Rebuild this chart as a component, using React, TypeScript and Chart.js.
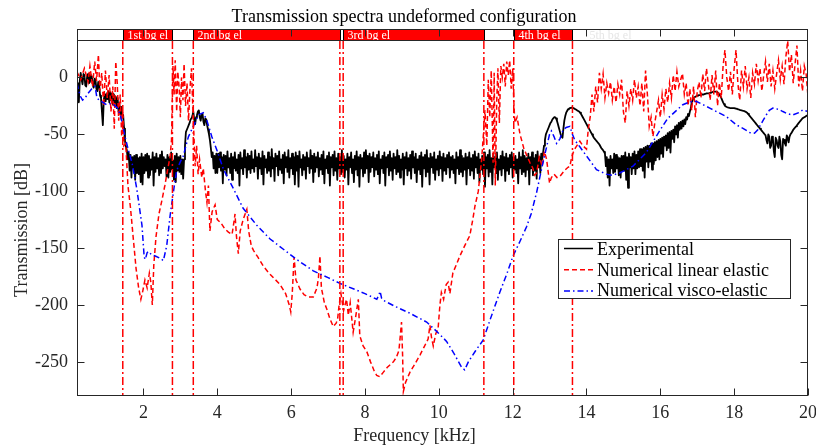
import React, { useEffect, useRef } from "react";
import { Chart, registerables } from "chart.js";

Chart.register(...registerables);

const FONT = '"Liberation Serif", "Times New Roman", Times, serif';
const INK = "#262626";

const chartTitle = "Transmission spectra undeformed configuration";
const xAxisTitle = "Frequency [kHz]";
const yAxisTitle = "Transmission [dB]";

const xTickValues = [2, 4, 6, 8, 10, 12, 14, 16, 18, 20];
const yTickValues = [-250, -200, -150, -100, -50, 0];
const xMin = 0.2;
const xMax = 20;
const yMin = -280;
const yMax = 32;

const bandLabels = ["1st bg el", "2nd bg el", "3rd bg el", "4th bg el"];
const bandStarts = [1.44, 3.35, 7.41, 12.03];
const bandEnds = [2.785, 7.32, 11.22, 13.62];
const ghostLabel = "5th bg el";
const ghostLabelAt = 14.0;

const seriesLabels = ["Experimental", "Numerical linear elastic", "Numerical visco-elastic"];

// Experimental: frequencies from 0.2 kHz, one reading every 0.025 kHz
const expStartKHz = 0.2;
const expStepKHz = 0.025;
const experimentalDb = [
  // 0.200 - 0.975
  -5, -12, -22, -3, 4, -2, -6, 3, 2, -7,
  -8, 1, 3, -5, -4, 2, 1, -6, -9, -1,
  -2, -10, -12, -4, -6, -16, -18, -30, -42, -20,
  -15, -21,
  // 1
  -14, -19, -12, -22, -13, -20, -14, -24, -15, -23,
  -17, -27, -18, -30, -24, -33, -26, -34, -33, -45,
  -56, -61, -64, -72, -66, -82, -68, -88, -70, -80,
  -69, -90, -68, -84, -71, -85, -70, -92, -67, -94,
  // 2
  -70, -84, -68, -82, -67, -88, -69, -86, -72, -81,
  -66, -95, -70, -83, -67, -80, -71, -86, -68, -84,
  -65, -80, -70, -78, -72, -87, -68, -88, -70, -83,
  -66, -81, -73, -90, -69, -92, -67, -82, -70, -83,
  // 3
  -69, -85, -72, -89, -72, -60, -48, -46, -44, -42,
  -40, -37, -36, -34, -30, -37, -41, -35, -33, -30,
  -29, -35, -38, -33, -32, -39, -42, -36, -37, -42,
  -46, -50, -55, -62, -70, -66, -80, -69, -84, -67,
  // 4
  -84, -67, -79, -66, -82, -70, -93, -68, -81, -69,
  -86, -65, -79, -71, -84, -67, -90, -70, -80, -66,
  -82, -72, -84, -68, -95, -66, -80, -71, -85, -64,
  -79, -70, -88, -67, -81, -69, -84, -65, -80, -72,
  // 5
  -83, -64, -78, -70, -89, -67, -80, -71, -85, -65,
  -94, -69, -79, -72, -84, -66, -82, -70, -87, -63,
  -80, -71, -91, -67, -78, -69, -86, -65, -81, -72,
  -84, -68, -93, -66, -79, -70, -83, -64, -88, -71,
  // 6
  -80, -67, -85, -70, -94, -66, -82, -69, -96, -65,
  -79, -72, -86, -68, -81, -70, -89, -66, -78, -71,
  -84, -64, -80, -69, -92, -67, -83, -70, -79, -66,
  -87, -71, -81, -68, -85, -65, -93, -72, -80, -69,
  // 7
  -84, -66, -95, -70, -79, -68, -86, -65, -82, -71,
  -90, -67, -80, -70, -85, -64, -83, -69, -88, -72,
  -81, -67, -94, -70, -79, -66, -84, -72, -92, -69,
  -81, -65, -86, -70, -96, -68, -80, -71, -87, -66,
  // 8
  -84, -64, -80, -69, -92, -67, -83, -70, -79, -66,
  -87, -71, -81, -68, -85, -65, -93, -72, -80, -69,
  -84, -66, -95, -70, -79, -68, -86, -65, -82, -71,
  -90, -67, -80, -70, -85, -64, -83, -69, -88, -72,
  // 9
  -81, -67, -94, -70, -80, -66, -86, -71, -82, -68,
  -89, -65, -79, -70, -84, -67, -92, -72, -81, -69,
  -85, -66, -96, -70, -80, -68, -87, -64, -83, -71,
  -94, -67, -79, -70, -84, -66, -90, -72, -81, -69,
  // 10
  -86, -65, -80, -70, -91, -67, -82, -71, -85, -68,
  -79, -66, -88, -70, -81, -69, -84, -72, -93, -66,
  -80, -70, -85, -64, -83, -69, -87, -71, -81, -67,
  -94, -70, -80, -66, -86, -71, -82, -68, -89, -65,
  // 11
  -79, -70, -84, -67, -92, -72, -81, -69, -85, -66,
  -96, -70, -80, -68, -87, -64, -83, -71, -94, -67,
  -79, -70, -84, -66, -90, -72, -81, -69, -86, -65,
  -80, -70, -91, -67, -82, -71, -85, -68, -79, -66,
  // 12
  -88, -70, -81, -69, -84, -72, -93, -66, -80, -70,
  -85, -64, -83, -69, -87, -71, -81, -67, -94, -70,
  -80, -66, -86, -71, -82, -68, -89, -65, -79, -70,
  -84, -67, -72, -66, -60, -55, -50, -48, -46, -44,
  // 13
  -42, -40, -39, -37, -36, -35, -35, -36, -38, -41,
  -44, -47, -50, -52, -53, -45, -38, -34, -31, -29.5,
  -28, -27.5, -27, -26.7, -26.5, -26.7, -27, -27.5, -28, -28.5,
  -29, -29.5, -30, -31, -32, -33.5, -35, -36.5, -38, -39.5,
  // 14
  -41, -42.5, -44, -45.5, -47, -48.5, -50, -51.5, -53, -54,
  -55, -56, -57, -58, -59, -60.5, -62, -63, -64, -65.5,
  -67, -78, -70, -88, -72, -95, -69, -80, -72, -84,
  -67, -83, -68, -80, -70, -86, -71, -88, -69, -82,
  // 15
  -69, -82, -66, -90, -70, -97, -67, -79, -70, -85,
  -67, -80, -65, -85, -68, -80, -65, -79, -63, -78,
  -63, -82, -62, -88, -61, -74, -60, -79, -60, -74,
  -58, -81, -58, -76, -57, -73, -56, -70, -55, -72,
  // 16
  -54, -67, -53, -70, -52, -60, -51, -64, -49, -62,
  -48, -66, -47, -54, -46, -57, -43, -50, -42, -53,
  -40, -46, -39, -45, -38, -43, -37, -41, -35, -37,
  -32, -34, -30, -27, -22, -20, -18, -17.5, -17, -16.5,
  // 17
  -16, -16, -15.5, -15.5, -15, -15, -15, -15, -14.5, -14.5,
  -14, -14, -14, -14, -13.5, -13.5, -13, -13, -12.5, -12.5,
  -12.5, -12.7, -13, -14, -15, -16.5, -18, -20, -22, -23.5,
  -25, -25.5, -26, -26.3, -26.5, -26.8, -27, -27, -27, -27,
  // 18
  -27, -27.2, -27.5, -27.7, -28, -28.2, -28.5, -28.7, -29, -29.2,
  -29.5, -29.7, -30, -30.5, -31, -32, -33, -34, -35, -36,
  -37, -38, -39, -40, -41, -42, -43, -44, -45, -46,
  -47, -48, -49, -50, -51, -55, -58, -50, -52, -62,
  // 19
  -60, -52, -54, -65, -70, -53, -55, -60, -62, -52,
  -56, -68, -72, -54, -55, -58, -60, -51, -53, -57,
  -52, -50, -49, -47.5, -46, -45, -44, -43, -42, -41,
  -40, -39, -38, -37, -36, -35.5, -35, -34.5, -34, -33.5,
  // 20
  -33,
];

const linearFreq = [
  0.2, 0.3, 0.4, 0.5, 0.55, 0.62, 0.68, 0.73, 0.78, 0.82,
  0.87, 0.92, 0.97, 1.02, 1.07, 1.12, 1.17, 1.21, 1.25, 1.29,
  1.33, 1.37, 1.41, 1.44, 1.47, 1.52, 1.58, 1.65, 1.72, 1.8,
  1.87, 1.93, 1.98, 2.04, 2.1, 2.16, 2.2, 2.24, 2.28, 2.34,
  2.42, 2.5, 2.58, 2.65, 2.72, 2.76, 2.78, 2.8, 2.83, 2.86,
  2.9, 2.93, 2.97, 3.0, 3.03, 3.07, 3.1, 3.14, 3.18, 3.22,
  3.26, 3.3, 3.33, 3.36, 3.4, 3.44, 3.48, 3.52, 3.58, 3.62,
  3.68, 3.72, 3.76, 3.8, 3.86, 3.94, 4.0, 4.1, 4.2, 4.3,
  4.4, 4.46, 4.48, 4.52, 4.57, 4.62, 4.7, 4.8, 4.85, 4.92,
  4.98, 5.1, 5.25, 5.4, 5.55, 5.7, 5.85, 5.95, 5.99, 6.03,
  6.08, 6.13, 6.24, 6.35, 6.47, 6.6, 6.7, 6.74, 6.78, 6.82,
  6.9, 6.96, 7.05, 7.14, 7.22, 7.26, 7.3, 7.35, 7.42, 7.5,
  7.55, 7.6, 7.68, 7.75, 7.82, 7.86, 7.95, 8.05, 8.15, 8.25,
  8.32, 8.4, 8.5, 8.6, 8.7, 8.77, 8.85, 8.92, 8.96, 8.99,
  9.02, 9.04, 9.1, 9.22, 9.35, 9.49, 9.6, 9.71, 9.76, 9.8,
  9.85, 9.92, 9.98, 10.03, 10.07, 10.13, 10.2, 10.25, 10.3, 10.38,
  10.47, 10.57, 10.7, 10.84, 10.92, 10.98, 11.07, 11.16, 11.22, 11.25,
  11.3, 11.34, 11.38, 11.42, 11.47, 11.5, 11.53, 11.57, 11.6, 11.64,
  11.68, 11.72, 11.76, 11.8, 11.84, 11.88, 11.92, 11.96, 12.0, 12.03,
  12.06, 12.12, 12.2, 12.3, 12.4, 12.47, 12.55, 12.6, 12.65, 12.72,
  12.8, 12.86, 12.92, 13.0, 13.05, 13.12, 13.2, 13.28, 13.4, 13.5,
  13.55, 13.6, 13.64, 13.7, 13.78, 13.82, 13.9, 14.0,
  14.05, 14.1, 14.15, 14.2, 14.25, 14.3, 14.35, 14.4, 14.45, 14.5,
  14.55, 14.6, 14.65, 14.7, 14.75, 14.8, 14.85, 14.9, 14.95, 15.0,
  15.05, 15.1, 15.15, 15.2, 15.25, 15.3, 15.35, 15.4, 15.45, 15.5,
  15.55, 15.6, 15.65, 15.7, 15.75, 15.8, 15.85, 15.9, 15.95, 16.0,
  16.05, 16.1, 16.15, 16.2, 16.25, 16.3, 16.35, 16.4, 16.45, 16.5,
  16.55, 16.6, 16.65, 16.7, 16.75, 16.8, 16.85, 16.9, 16.95, 17.0,
  17.05, 17.1, 17.15, 17.2, 17.25, 17.3, 17.35, 17.4, 17.45, 17.5,
  17.55, 17.6, 17.65, 17.7, 17.75, 17.8, 17.85, 17.9, 17.95, 18.0,
  18.05, 18.1, 18.15, 18.2, 18.25, 18.3, 18.35, 18.4, 18.45, 18.5,
  18.55, 18.6, 18.65, 18.7, 18.75, 18.8, 18.85, 18.9, 18.95, 19.0,
  19.05, 19.1, 19.15, 19.2, 19.25, 19.3, 19.35, 19.4, 19.45, 19.5,
  19.55, 19.6, 19.65, 19.7, 19.75, 19.8, 19.85, 19.9, 19.95, 20.0,
];
const linearDb = [
  5, -2, 8, -4, 10, -8, 14, -3, 20, -12,
  4, -25, 6, -18, 2, -30, -8, -45, 14, -5,
  -38, -15, -52, -30, -60, -58, -95, -115, -140, -168,
  -185, -195, -188, -178, -185, -172, -180, -200, -165, -140,
  -120, -108, -95, -82, -70, -55, -20, 10, -15, 15,
  -30, 5, -10, -35, 0, -20, 12, -25, -5, -38,
  -10, 8, -20, -45, -78, -60, -85, -72, -88, -80,
  -100, -110, -95, -135, -118, -112, -125, -128, -133, -136,
  -138, -125, -120, -140, -155, -135, -125, -116, -135, -148,
  -152, -158, -166, -172, -177, -182, -190, -200, -206, -190,
  -158, -178, -186, -191, -193, -193, -185, -176, -157, -185,
  -198, -203, -212, -219, -216, -212, -200, -190, -205, -195,
  -209, -198, -224, -210, -195, -227, -236, -241, -250, -258,
  -262, -263, -259, -255, -252, -250, -246, -240, -226, -215,
  -245, -276, -268, -259, -252, -244, -237, -230, -218, -228,
  -236, -225, -221, -200, -189, -195, -182, -180, -190, -172,
  -165, -157, -148, -139, -125, -113, -100, -72, -45, -29,
  -60, -2, -35, 6, -75, 4, -95, -20, 8, -40,
  10, 0, 12, -8, 14, 2, 15, -10, 8, -20,
  -40, -35, -50, -62, -70, -75, -80, -86, -84, -70,
  -78, -65, -72, -93, -88, -85, -88, -87, -82, -79,
  -78, -70, -66, -62, -58, -56, -60, -63,
  -45, -35, -15, -30, -8, -22, 4, -10, 3, -18,
  -5, -14, -4, -20, -8, -22, -6, -15, -2, -30,
  -40, -12, -25, -10, -20, -2, -18, -8, -25, -5,
  -30, 6, -15, -43, -35, -52, -40, -30, -20, -35,
  -15, -28, -10, -22, -5, -18, 2, -12, 5, -8,
  -2, 3.5, -15, -5, -25, -10, -29, -8, -35, -12,
  -4, -18, 3, -12, 8, -6, -20, 2, -15, 6,
  -25, -5, -18, 10, 24, 0, -12, 5, -15, 8,
  24, -5, -20, 6, -8, 10, -10, 0, -18, 4,
  -6, 12, -3, 8, -12, 2, 14, -4, 12, -8,
  6, -10, 3, 15, -2, 10, -6, 18, 32, 5,
  20, -5, 12, 28, -8, 6, -12, 10, 3, -17,
];

const viscoFreq = [
  0.2, 0.25, 0.3, 0.35, 0.42, 0.5, 0.6, 0.69, 0.74, 0.8,
  0.9, 1.0, 1.1, 1.2, 1.3, 1.38, 1.45, 1.5, 1.6, 1.69,
  1.82, 1.96, 2.02, 2.05, 2.1, 2.14, 2.22, 2.32, 2.45, 2.54,
  2.63, 2.72, 2.78, 2.85, 2.9, 3.0, 3.08, 3.15, 3.22, 3.35,
  3.49, 3.62, 3.72, 3.85, 3.99, 4.17, 4.44, 4.7, 5.07, 5.43,
  5.79, 6.15, 6.6, 7.0, 7.32, 7.7, 8.0, 8.32, 8.38, 8.41,
  8.45, 8.5, 8.8, 9.2, 9.67, 10.0, 10.21, 10.4, 10.62, 10.7,
  10.8, 11.0, 11.2, 11.4, 11.65, 11.85, 12.01, 12.2, 12.38, 12.5,
  12.65, 12.78, 12.92, 13.0, 13.05, 13.12, 13.19, 13.28, 13.37, 13.45,
  13.55, 13.62, 13.68, 13.82, 14.0, 14.27, 14.54, 14.7, 14.9, 15.26,
  15.62, 15.98, 16.2, 16.44, 16.61, 16.8, 16.97, 17.16, 17.34, 17.52,
  17.79, 18.06, 18.25, 18.42, 18.55, 18.64, 18.78, 18.87, 18.95, 19.05,
  19.2, 19.32, 19.45, 19.59, 19.75, 19.86, 20.0,
];
const viscoDb = [
  -5, -12, -17, -20, -18, -14, -10, -8, -18, -20,
  -22, -24, -23, -24, -27, -34, -44, -52, -65, -75,
  -98, -130, -158, -160, -154, -153, -156, -157, -159, -161,
  -148, -122, -108, -92, -82, -74, -69, -60, -52, -43,
  -33, -31, -38, -52, -64, -81, -98, -115, -130, -142,
  -151, -160, -170, -176, -181, -186, -190, -195, -191, -188,
  -194, -196, -201, -207, -215, -225, -232, -242, -255, -257,
  -250, -240, -231, -212, -189, -172, -157, -144, -131, -120,
  -101, -81, -61, -50, -47, -52, -58, -54, -46, -44,
  -43, -50, -55, -61, -69, -81, -85, -86, -84, -78,
  -66, -47, -36, -29, -24, -21.5, -21, -24, -27, -30,
  -34.5, -41.7, -45, -48.4, -49, -46, -38, -33, -29, -27,
  -28, -30, -32, -33, -31, -28.6, -30,
];

const overlayPlugin = {
  id: "overlay",
  afterDatasetsDraw(chart: any) {
    const { ctx, chartArea: a, scales } = chart;
    const x = scales.x;
    ctx.save();
    ctx.beginPath();
    ctx.rect(a.left, a.top, a.right - a.left, a.bottom - a.top);
    ctx.clip();
    ctx.strokeStyle = "#ff0000";
    ctx.lineWidth = 1.5;
    ctx.setLineDash([8, 3, 2, 3]);
    [...bandStarts, ...bandEnds].forEach((f) => {
      const px = x.getPixelForValue(f);
      ctx.beginPath();
      ctx.moveTo(px, a.top);
      ctx.lineTo(px, a.bottom);
      ctx.stroke();
    });
    ctx.restore();
  },
  afterDraw(chart: any) {
    const { ctx, chartArea: a, scales } = chart;
    const x = scales.x;
    const y = scales.y;
    const L = Math.round(a.left) + 0.5;
    const R = Math.round(a.right) - 0.5;
    const T = Math.round(a.top) - 0.5;
    const B = Math.round(a.bottom) - 0.5;
    const stripTop = 29.5;
    const tick = 7;
    ctx.save();
    ctx.setLineDash([]);

    // plot frame and inward ticks
    ctx.strokeStyle = INK;
    ctx.lineWidth = 1;
    ctx.strokeRect(L, T, R - L, B - T);
    ctx.beginPath();
    yTickValues.forEach((v) => {
      const py = Math.round(y.getPixelForValue(v)) + 0.5;
      ctx.moveTo(L, py);
      ctx.lineTo(L + tick, py);
      ctx.moveTo(R, py);
      ctx.lineTo(R - tick, py);
    });
    xTickValues.forEach((v) => {
      const px = Math.round(x.getPixelForValue(v)) + 0.5;
      ctx.moveTo(px, B);
      ctx.lineTo(px, B - tick);
    });
    ctx.stroke();

    // band strip above the plot
    ctx.fillStyle = "#ffffff";
    ctx.fillRect(L, stripTop, R - L, T - stripTop);
    bandStarts.forEach((s, i) => {
      const x0 = Math.round(x.getPixelForValue(s)) + 0.5;
      const x1 = Math.round(x.getPixelForValue(bandEnds[i])) + 0.5;
      ctx.fillStyle = "#ff0000";
      ctx.fillRect(x0, stripTop, x1 - x0, T - stripTop);
      ctx.strokeStyle = "#000000";
      ctx.strokeRect(x0, stripTop, x1 - x0, T - stripTop);
      ctx.save();
      ctx.beginPath();
      ctx.rect(x0, stripTop, x1 - x0, T - stripTop);
      ctx.clip();
      ctx.fillStyle = "#ffffff";
      ctx.font = `12px ${FONT}`;
      ctx.textAlign = "left";
      ctx.textBaseline = "alphabetic";
      ctx.fillText(bandLabels[i], x0 + 4, 39.3);
      ctx.restore();
    });
    ctx.save();
    ctx.beginPath();
    ctx.rect(L, stripTop, R - L, T - stripTop);
    ctx.clip();
    ctx.fillStyle = "#e6e6e6";
    ctx.font = `12px ${FONT}`;
    ctx.textAlign = "left";
    ctx.fillText(ghostLabel, x.getPixelForValue(ghostLabelAt) + 3, 39.3);
    ctx.restore();
    ctx.strokeStyle = INK;
    ctx.lineWidth = 1;
    ctx.strokeRect(L, stripTop, R - L, T - stripTop);
    ctx.beginPath();
    xTickValues.forEach((v) => {
      if (v >= xMax) return;
      const px = Math.round(x.getPixelForValue(v)) + 0.5;
      ctx.moveTo(px, stripTop);
      ctx.lineTo(px, stripTop + tick);
    });
    ctx.stroke();

    // legend
    const lx = 558.5, ly = 239.5, lw = 232, lh = 59;
    ctx.fillStyle = "#ffffff";
    ctx.fillRect(lx, ly, lw, lh);
    ctx.strokeStyle = INK;
    ctx.lineWidth = 1;
    ctx.strokeRect(lx, ly, lw, lh);
    chart.data.datasets.forEach((ds: any, i: number) => {
      const sy = 248.5 + i * 21.3;
      ctx.strokeStyle = ds.borderColor;
      ctx.lineWidth = Math.min(ds.borderWidth, 1.5);
      ctx.setLineDash(ds.borderDash || []);
      ctx.beginPath();
      ctx.moveTo(564, sy);
      ctx.lineTo(593, sy);
      ctx.stroke();
      ctx.setLineDash([]);
      ctx.fillStyle = "#000000";
      ctx.font = `18px ${FONT}`;
      ctx.textAlign = "left";
      ctx.textBaseline = "alphabetic";
      ctx.fillText(ds.label, 597, 255 + i * 20.7);
    });

    // titles
    ctx.fillStyle = "#000000";
    ctx.font = `18px ${FONT}`;
    ctx.textAlign = "center";
    ctx.textBaseline = "alphabetic";
    ctx.fillText(chartTitle, 404, 22);
    ctx.fillStyle = INK;
    ctx.fillText(xAxisTitle, 414.5, 441);
    ctx.save();
    ctx.translate(27, 230);
    ctx.rotate(-Math.PI / 2);
    ctx.fillText(yAxisTitle, 0, 0);
    ctx.restore();

    ctx.restore();
  },
};

export default function App() {
  const ref = useRef<HTMLCanvasElement>(null);
  useEffect(() => {
    const canvas = ref.current;
    if (!canvas) return;
    const expData = experimentalDb.map((v, i) => ({ x: +(expStartKHz + i * expStepKHz).toFixed(3), y: v }));
    const linData = linearFreq.map((f, i) => ({ x: f, y: linearDb[i] }));
    const visData = viscoFreq.map((f, i) => ({ x: f, y: viscoDb[i] }));
    const tickFont = { family: FONT, size: 18 };
    const chart = new Chart(canvas, {
      type: "line",
      data: {
        datasets: [
          { label: seriesLabels[0], data: expData, borderColor: "#000000", borderWidth: 1.8, pointRadius: 0, borderJoinStyle: "round", order: 3 },
          { label: seriesLabels[1], data: linData, borderColor: "#ff0000", borderWidth: 1.5, borderDash: [5, 3], pointRadius: 0, order: 2 },
          { label: seriesLabels[2], data: visData, borderColor: "#0000ff", borderWidth: 1.5, borderDash: [6, 3, 1.5, 3], pointRadius: 0, order: 1 },
        ],
      } as any,
      options: {
        responsive: false,
        animation: false,
        events: [],
        layout: { autoPadding: false, padding: { left: 0, right: 8, top: 41, bottom: 0 } },
        plugins: { legend: { display: false }, title: { display: false }, tooltip: { enabled: false } },
        elements: { line: { tension: 0 } },
        scales: {
          x: {
            type: "linear",
            min: xMin,
            max: xMax,
            grid: { display: false, drawTicks: false },
            border: { display: false },
            afterBuildTicks: (s: any) => { s.ticks = xTickValues.map((v) => ({ value: v })); },
            afterFit: (s: any) => { s.height = 49; s.paddingLeft = 0; s.paddingRight = 0; },
            ticks: { font: tickFont, color: INK, padding: 6, maxRotation: 0, autoSkip: false },
          },
          y: {
            type: "linear",
            min: yMin,
            max: yMax,
            grid: { display: false, drawTicks: false },
            border: { display: false },
            afterBuildTicks: (s: any) => { s.ticks = yTickValues.map((v) => ({ value: v })); },
            afterFit: (s: any) => { s.width = 77; s.paddingTop = 0; s.paddingBottom = 0; },
            ticks: { font: tickFont, color: INK, padding: 9, autoSkip: false },
          },
        },
      } as any,
      plugins: [overlayPlugin],
    });
    return () => chart.destroy();
  }, []);
  return (
    <div style={{ position: "fixed", left: 0, top: 0, width: 816, height: 445, background: "#ffffff" }}>
      <canvas ref={ref} width={816} height={445} style={{ width: 816, height: 445, display: "block" }} />
    </div>
  );
}
